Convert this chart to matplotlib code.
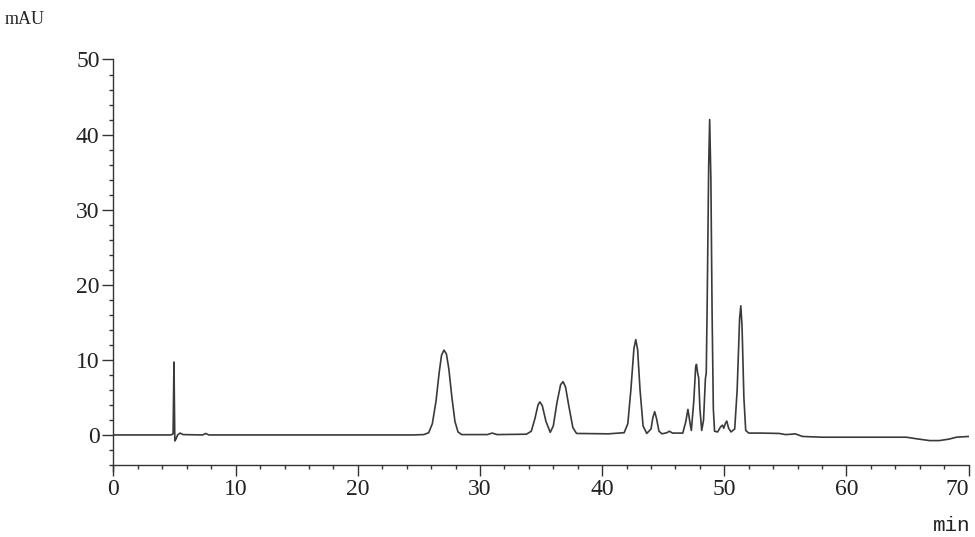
import matplotlib.pyplot as plt
from matplotlib.ticker import MultipleLocator

# Chromatogram trace (retention time in min, signal in mAU)
time_min = [0.0, 4.7, 4.88, 4.95, 5.02, 5.1, 5.25, 5.45, 5.7, 7.3, 7.55, 7.8,
            24.5, 25.4, 25.8, 26.1, 26.4, 26.65, 26.85, 27.05, 27.25, 27.45, 27.7,
            27.95, 28.2, 28.5, 30.6, 31.0, 31.4, 33.8, 34.2, 34.5, 34.75, 34.9,
            35.1, 35.4, 35.75, 36.0, 36.3, 36.6, 36.8, 37.0, 37.3, 37.6, 37.9,
            40.5, 41.8, 42.1, 42.35, 42.6, 42.75, 42.9, 43.1, 43.35, 43.65, 44.0,
            44.15, 44.3, 44.45, 44.65, 44.9, 45.3, 45.5, 45.75, 46.6, 46.85, 47.02,
            47.2, 47.3, 47.5, 47.65, 47.72, 47.82, 47.9, 48.0, 48.15, 48.3, 48.45,
            48.52, 48.6, 48.72, 48.8, 48.9, 49.0, 49.1, 49.2, 49.45, 49.7, 49.85,
            49.95, 50.1, 50.2, 50.35, 50.55, 50.85, 51.05, 51.25, 51.35, 51.45,
            51.6, 51.75, 52.0, 53.0, 54.5, 55.0, 55.5, 55.8, 56.4, 58.0, 60.0,
            64.9, 65.7, 66.8, 67.6, 68.4, 69.0, 70.0]
signal_mau = [0.0, 0.0, 0.15, 9.7, -0.8, -0.6, 0.0, 0.25, 0.05, 0.0, 0.2, 0.0,
              0.0, 0.05, 0.3, 1.5, 4.5, 8.2, 10.6, 11.3, 10.8, 8.8, 5.0,
              1.8, 0.4, 0.05, 0.05, 0.25, 0.05, 0.1, 0.5, 2.2, 4.0, 4.4,
              3.9, 1.8, 0.35, 1.2, 4.3, 6.7, 7.1, 6.4, 3.6, 1.0, 0.2,
              0.15, 0.3, 1.5, 6.0, 11.5, 12.7, 11.4, 6.0, 1.2, 0.2, 0.8,
              2.3, 3.1, 2.2, 0.5, 0.15, 0.3, 0.5, 0.25, 0.25, 1.8, 3.4,
              1.5, 0.6, 4.5, 9.0, 9.4, 8.2, 7.6, 3.5, 0.6, 2.0, 7.5,
              8.2, 18.0, 36.0, 42.0, 34.0, 16.0, 3.5, 0.5, 0.4, 1.1, 1.3,
              0.9, 1.6, 1.85, 0.9, 0.4, 0.8, 6.0, 15.5, 17.2, 14.5,
              5.0, 0.6, 0.25, 0.25, 0.2, 0.05, 0.1, 0.15, -0.2, -0.3, -0.3,
              -0.3, -0.5, -0.75, -0.75, -0.55, -0.3, -0.2]

x_ticks = [0, 10, 20, 30, 40, 50, 60, 70]
y_ticks = [0, 10, 20, 30, 40, 50]

fig = plt.figure(figsize=(9.75, 5.37), dpi=100)
ax = fig.add_axes([0.1164, 0.1229, 0.8771, 0.7663])

ax.plot(time_min, signal_mau, color='#3a3a3a', linewidth=1.2)

ax.set_xlim(0, 70)
ax.set_ylim(-4.8, 50)

# axis frame like the instrument printout
ax.spines['top'].set_visible(False)
ax.spines['right'].set_visible(False)
ax.spines['bottom'].set_position(('data', -4))
for s in ['left', 'bottom']:
    ax.spines[s].set_color('#333333')
    ax.spines[s].set_linewidth(1.0)

ax.set_xticks(x_ticks)
ax.set_yticks(y_ticks)
ax.xaxis.set_minor_locator(MultipleLocator(2))
ax.yaxis.set_minor_locator(MultipleLocator(2))
ax.tick_params(which='major', direction='out', length=8, width=1.0,
               color='#333333', pad=2)
ax.tick_params(which='minor', direction='out', length=3, width=1.0,
               color='#333333')
for lab in ax.get_xticklabels() + ax.get_yticklabels():
    lab.set_fontfamily('Liberation Serif')
    lab.set_fontsize(17)
    lab.set_color('#222222')
ax.get_xticklabels()[-1].set_horizontalalignment('right')

fig.text(5 / 975, 1 - 24 / 537, "mAU", fontfamily='Liberation Serif',
         fontsize=13, color='#222222', ha='left', va='baseline')
fig.text(970 / 975, 1 - 531 / 537, "min", fontfamily='Liberation Mono',
         fontsize=15, color='#222222', ha='right', va='baseline')

plt.savefig("out.png", dpi=100)
